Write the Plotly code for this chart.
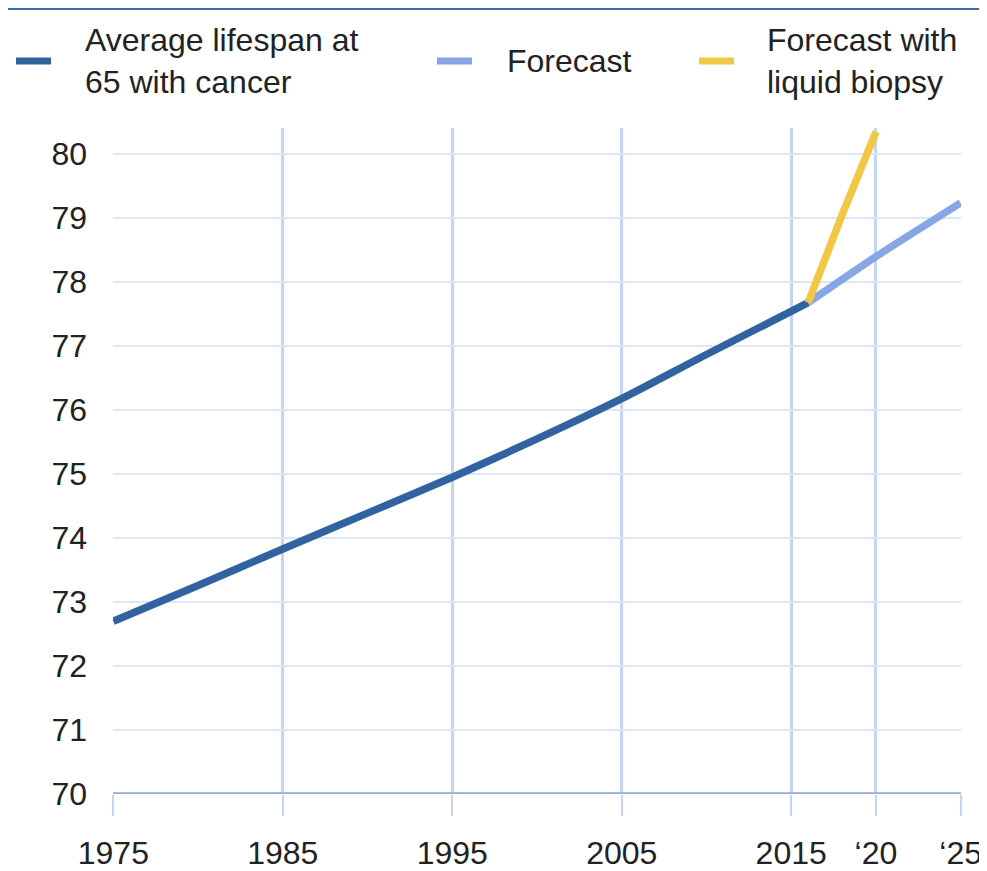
import plotly.graph_objects as go

# ---- data ----
hist_years = [1975, 1980, 1985, 1990, 1995, 2000, 2005, 2010, 2016]
hist_values = [72.70, 73.26, 73.83, 74.39, 74.95, 75.55, 76.18, 76.87, 77.68]

forecast_years = [2016, 2020, 2025]
forecast_values = [77.68, 78.40, 79.24]

biopsy_years = [2016, 2018, 2020]
biopsy_values = [77.68, 79.05, 80.35]

series_names = ["Average lifespan at<br>65 with cancer", "Forecast", "Forecast with<br>liquid biopsy"]
series_colors = ["#30639f", "#86a6e6", "#f2c744"]

x_tickvals = [1975, 1985, 1995, 2005, 2015, 2020, 2025]
x_ticktext = ["1975", "1985", "1995", "2005", "2015", "\u201820", "\u201825"]
y_tickvals = [70, 71, 72, 73, 74, 75, 76, 77, 78, 79, 80]

FONT = "Liberation Sans, Arial, Helvetica, sans-serif"
OFF = 8  # default page margin around the plot div
W, H = 987 - OFF, 871 - OFF
ML, MR, MT, MB = 113 - OFF, 26, 128 - OFF, 77
PW, PH = W - ML - MR, H - MT - MB

fig = go.Figure()
for xs, ys, name, col in [
    (hist_years, hist_values, series_names[0], series_colors[0]),
    (forecast_years, forecast_values, series_names[1], series_colors[1]),
    (biopsy_years, biopsy_values, series_names[2], series_colors[2]),
]:
    fig.add_trace(go.Scatter(x=xs, y=ys, mode="lines", name=name,
                             line=dict(color=col, width=7.5, shape="spline", smoothing=0.6),
                             showlegend=False, cliponaxis=True))

# page-pixel -> paper coordinates
def px_to_paper_x(px):
    return (px - OFF - ML) / PW

def px_to_paper_y(py):
    return (H - MB - (py - OFF)) / PH

shapes = []
annotations = []
# top rule
shapes.append(dict(type="line", xref="paper", yref="paper",
                   x0=px_to_paper_x(OFF), x1=px_to_paper_x(987),
                   y0=px_to_paper_y(9), y1=px_to_paper_y(9),
                   line=dict(color="#3a6aa8", width=2)))

# manual legend
legend_bar_x = [16, 437, 699]
legend_text_x = [83, 505, 765]
legend_y = 61
for i, name in enumerate(series_names):
    shapes.append(dict(type="line", xref="paper", yref="paper",
                       x0=px_to_paper_x(legend_bar_x[i]), x1=px_to_paper_x(legend_bar_x[i] + 35),
                       y0=px_to_paper_y(legend_y), y1=px_to_paper_y(legend_y),
                       line=dict(color=series_colors[i], width=7)))
    annotations.append(dict(xref="paper", yref="paper",
                            x=px_to_paper_x(legend_text_x[i]), y=px_to_paper_y(legend_y),
                            xanchor="left", yanchor="middle", align="left",
                            text=name, showarrow=False,
                            font=dict(family=FONT, size=32, color="#222222")))

fig.update_layout(
    width=W, height=H,
    margin=dict(l=ML, r=MR, t=MT, b=MB, autoexpand=False),
    paper_bgcolor="white", plot_bgcolor="white",
    font=dict(family=FONT, size=32, color="#222222"),
    shapes=shapes, annotations=annotations,
    showlegend=False,
)
fig.update_xaxes(
    range=[1974.98, 2025.02], automargin=False,
    tickmode="array", tickvals=x_tickvals, ticktext=x_ticktext,
    showgrid=True, gridcolor="#c3d4f4", gridwidth=2.5,
    showline=False, zeroline=False,
    ticks="outside", ticklen=21, tickwidth=2, tickcolor="#c3d4f4",
    ticklabelstandoff=10,
    tickfont=dict(family=FONT, size=32, color="#222222"),
)
fig.update_yaxes(
    range=[70, 80.41], automargin=False,
    tickmode="array", tickvals=y_tickvals,
    showgrid=True, gridcolor="#dde6f7", gridwidth=2,
    showline=False, zeroline=False,
    ticks="", ticklabelstandoff=25,
    tickfont=dict(family=FONT, size=32, color="#222222"),
)
# baseline at 70
fig.add_hline(y=70, line=dict(color="#93abd0", width=3.5), layer="above")

fig.write_html("out.html")
